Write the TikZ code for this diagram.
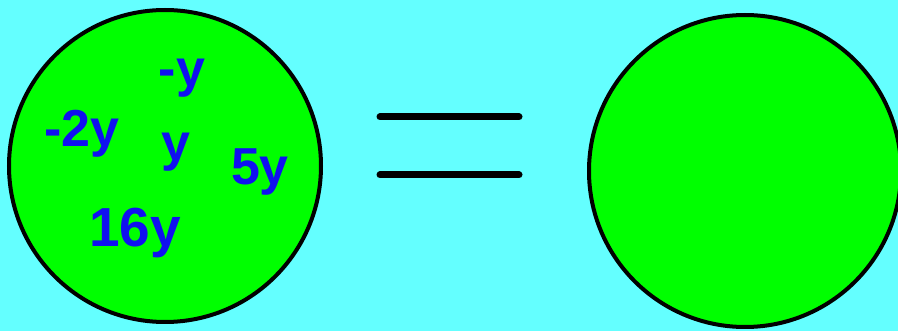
\documentclass[tikz,border=0pt]{standalone}
\usepackage{fontspec}
\setmainfont{Liberation Sans}
\definecolor{skycyan}{RGB}{100,255,255}
\definecolor{ballgreen}{RGB}{0,255,0}
\definecolor{termblue}{RGB}{16,16,240}

\begin{document}
\begin{tikzpicture}[x=1pt,y=-1pt,ball/.style={circle,draw=black,line width=4pt,fill=ballgreen,minimum size=312pt,inner sep=0pt},term/.style={text=termblue,font=\fontsize{52}{60}\selectfont\bfseries,anchor=base,inner sep=0pt},bar/.style={line width=7pt,line cap=round}]
\useasboundingbox[fill=skycyan] (0,0) rectangle (898,331);
\node[ball] (lhs) at (165,166) {};
\node[ball] (rhs) at (745,171) {};
\node[term] (negy) at (182,87) {-y};
\node[term] (negtwoy) at (82,147) {-2y};
\node[term] (oney) at (176,161) {y};
\node[term] (fivey) at (260,185) {5y};
\node[term,font=\fontsize{55}{62}\selectfont\bfseries] (sixteeny) at (135,247) {16y};
\coordinate (eqa) at (380,117);
\coordinate (eqb) at (519,117);
\coordinate (eqc) at (380,175);
\coordinate (eqd) at (519,175);
\draw[bar] (eqa)--(eqb);
\draw[bar] (eqc)--(eqd);
\end{tikzpicture}
\end{document}
